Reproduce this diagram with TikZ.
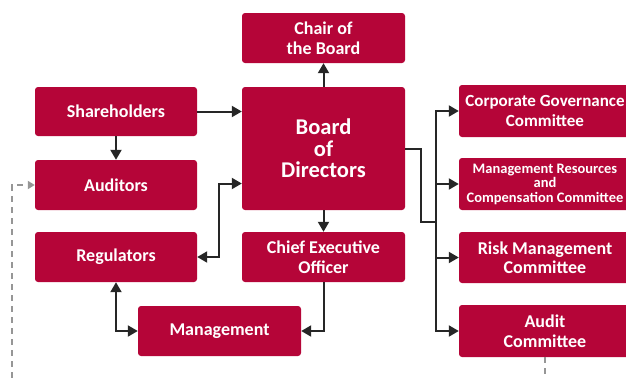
\documentclass[tikz,border=0pt]{standalone}
\usepackage{fontspec}
\setmainfont{Carlito}
\usetikzlibrary{arrows.meta}
\definecolor{crimson}{RGB}{181,5,56}
\definecolor{fbgray}{RGB}{150,150,150}

\begin{document}
\begin{tikzpicture}[x=1pt,y=-1pt,
  box/.style={fill=crimson,text=white,rounded corners=3pt,inner sep=0pt,align=center,
    font=\bfseries\fontsize{18}{19.5}\selectfont},
  big/.style={font=\bfseries\fontsize{22.5}{21.5}\selectfont},
  mid/.style={font=\bfseries\fontsize{17}{19.5}\selectfont},
  small/.style={font=\bfseries\fontsize{14.5}{14.5}\selectfont},
  link/.style={draw=black!85,line width=2pt,-{Triangle[length=10pt,width=11pt]}},
  both/.style={link,{Triangle[length=10pt,width=11pt]}-{Triangle[length=10pt,width=11pt]}},
  feedback/.style={draw=fbgray,line width=2pt,dash pattern=on 6pt off 5pt,
    -{Triangle[length=7pt,width=8pt]}}]
  \useasboundingbox (0,0) rectangle (626,378);
  \clip (0,0) rectangle (626,378);

  \node[box,minimum width=163pt,minimum height=50pt] (chair) at (323.5,38) {Chair of\\the Board};
  \node[box,big,minimum width=163pt,minimum height=123pt] (board) at (323.5,148.5) {Board\\of\\Directors};
  \node[box,minimum width=162pt,minimum height=49pt] (share) at (116,111.5) {Shareholders};
  \node[box,minimum width=162pt,minimum height=50pt] (aud) at (116,185) {Auditors};
  \node[box,minimum width=162pt,minimum height=50pt] (reg) at (116,257) {Regulators};
  \node[box,minimum width=163pt,minimum height=50pt] (ceo) at (323.5,257) {Chief Executive\\Officer};
  \node[box,minimum width=163pt,minimum height=50pt] (mgmt) at (219.5,331) {Management};

  \node[box,mid,minimum width=172pt,minimum height=52pt] (cg) at (545,111) {Corporate Governance\\Committee};
  \node[box,small,minimum width=172pt,minimum height=52pt] (mrcc) at (545,184) {Management Resources\\and\\Compensation Committee};
  \node[box,minimum width=172pt,minimum height=51pt] (risk) at (545,257.5) {Risk Management\\Committee};
  \node[box,minimum width=172pt,minimum height=52pt] (audc) at (545,331) {Audit\\Committee};

  \draw[link] (board.north) -- (chair.south);
  \draw[link] (share.east) -- (share.east -| board.west);
  \draw[link] (share.south) -- (aud.north);
  \draw[link] (board.south) -- (ceo.north);
  \draw[link] (ceo.south) |- (mgmt.east);
  \draw[both] (reg.south) |- (mgmt.west);
  \coordinate (regbend) at (219,183.5);
  \draw[both] (reg.east) -| (regbend) -- (regbend -| board.west);

  \coordinate (trunk) at (436,222);
  \draw[link,-] (board.east) -- ++(16,0) |- (trunk);
  \foreach \c in {cg,mrcc,risk,audc} \draw[link] (trunk) |- (\c.west);

  \coordinate (under) at (12,420);
  \draw[feedback] (audc.south) |- (under) |- (aud.west);
\end{tikzpicture}
\end{document}
